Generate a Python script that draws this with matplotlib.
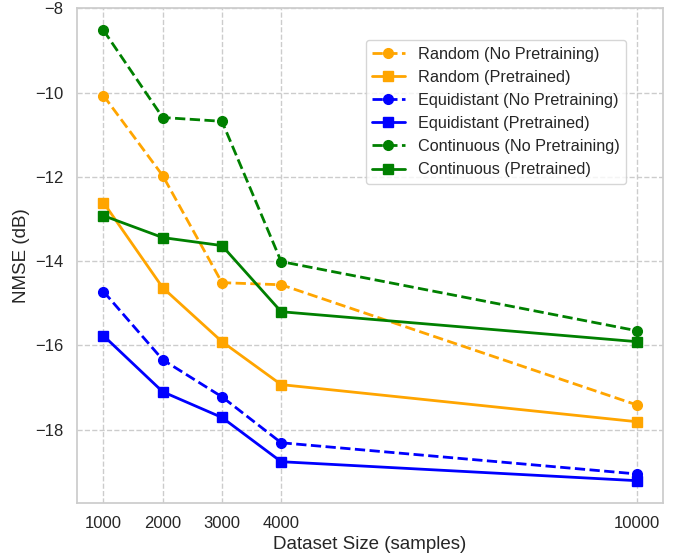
import matplotlib
matplotlib.use("Agg")
import matplotlib.pyplot as plt
import seaborn as sns

sns.set_theme(style="whitegrid")
plt.rcParams["font.family"] = ["Liberation Sans", "DejaVu Sans"]
plt.rcParams["grid.linestyle"] = "--"

sizes = [1000, 2000, 3000, 4000, 10000]

random_nopre = [-10.07, -11.97, -14.51, -14.56, -17.41]
random_pre = [-12.61, -14.63, -15.91, -16.93, -17.81]
equi_nopre = [-14.72, -16.34, -17.22, -18.31, -19.05]
equi_pre = [-15.77, -17.10, -17.71, -18.76, -19.21]
cont_nopre = [-8.52, -10.59, -10.68, -14.01, -15.65]
cont_pre = [-12.92, -13.44, -13.63, -15.20, -15.91]

series = [
    ("Random", "orange", random_nopre, random_pre),
    ("Equidistant", "blue", equi_nopre, equi_pre),
    ("Continuous", "green", cont_nopre, cont_pre),
]

fig, ax = plt.subplots(figsize=(6.74, 5.56), dpi=100)
fig.subplots_adjust(left=0.114, right=0.984, bottom=0.095, top=0.986)

for name, color, nopre, pre in series:
    ax.plot(sizes, nopre, color=color, linestyle="--", marker="o", linewidth=2,
            markersize=7, label=f"{name} (No Pretraining)")
    ax.plot(sizes, pre, color=color, linestyle="-", marker="s", linewidth=2,
            markersize=7, label=f"{name} (Pretrained)")

ax.set_xticks(sizes)
ax.set_xlabel("Dataset Size (samples)", fontsize=13.5, labelpad=3)
ax.set_ylabel("NMSE (dB)", fontsize=13.5)
ax.tick_params(labelsize=12)
ax.legend(loc="upper right", bbox_to_anchor=(0.95, 0.951), fontsize=11.7)

fig.savefig("out.png")
